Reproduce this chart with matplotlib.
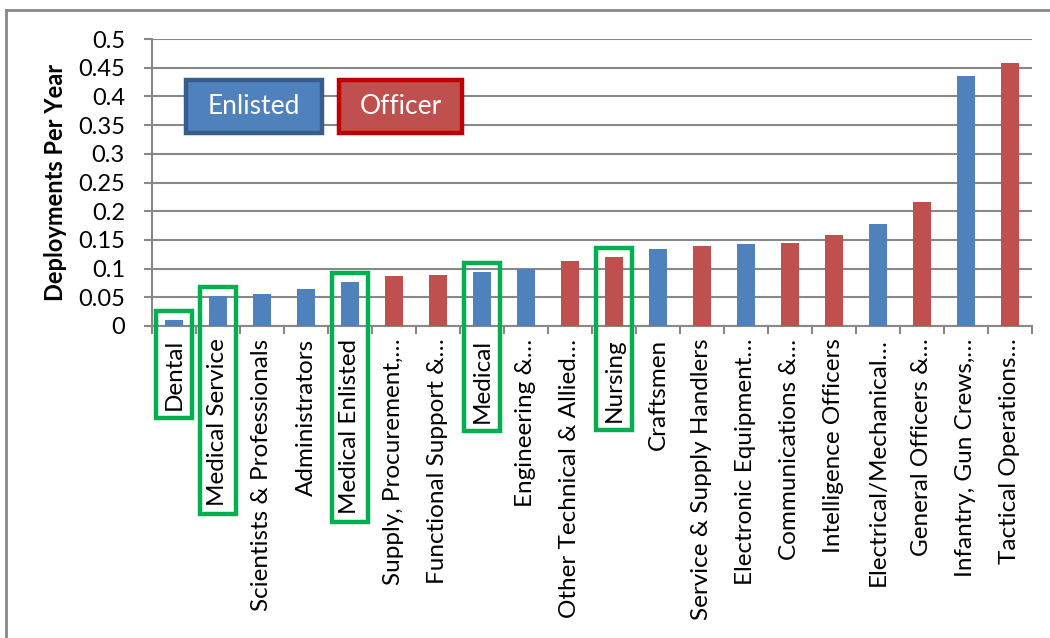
import matplotlib
matplotlib.use("Agg")
import matplotlib.pyplot as plt
from matplotlib.patches import Rectangle
from matplotlib.lines import Line2D
import numpy as np

plt.rcParams['font.family'] = ['Lato', 'DejaVu Sans']

# datos
categorias = ["Dental", "Medical Service", "Scientists & Professionals", "Administrators",
              "Medical Enlisted", "Supply, Procurement,…", "Functional Support &…", "Medical",
              "Engineering &…", "Other Technical & Allied…", "Nursing", "Craftsmen",
              "Service & Supply Handlers", "Electronic Equipment…", "Communications &…",
              "Intelligence Officers", "Electrical/Mechanical…", "General Officers &…",
              "Infantry, Gun Crews,…", "Tactical Operations…"]
valores = [0.010, 0.052, 0.056, 0.064, 0.077, 0.087, 0.088, 0.094, 0.100, 0.113,
           0.120, 0.135, 0.139, 0.142, 0.144, 0.158, 0.178, 0.216, 0.436, 0.458]
tipo = ["E", "E", "E", "E", "E", "O", "O", "E", "E", "O",
        "O", "E", "O", "E", "O", "O", "E", "O", "E", "O"]
resaltados = ["Dental", "Medical Service", "Medical Enlisted", "Medical", "Nursing"]
yticks = [0, 0.05, 0.1, 0.15, 0.2, 0.25, 0.3, 0.35, 0.4, 0.45, 0.5]
ytick_labels = ["0", "0.05", "0.1", "0.15", "0.2", "0.25", "0.3", "0.35", "0.4", "0.45", "0.5"]

azul = "#4F81BD"
rojo = "#C0504D"
gris = "#888888"
verde = "#00B050"

W, H = 1050, 638
fig = plt.figure(figsize=(W / 100, H / 100), dpi=100)
ax = fig.add_axes([152 / W, 1 - 326 / H, 880 / W, 287 / H])

x = np.arange(len(categorias))
colores = [azul if t == "E" else rojo for t in tipo]
ax.bar(x, valores, width=0.4, color=colores, zorder=3)

ax.set_xlim(-0.5, len(categorias) - 0.5)
ax.set_ylim(0, 0.5)
ax.set_yticks(yticks)
ax.set_yticklabels(ytick_labels, fontsize=17)
ax.set_xticks(x)
ax.set_xticklabels(categorias, rotation=90, fontsize=17.5, va='top', ha='center')
ax.set_xticks(np.arange(-0.5, len(categorias)), minor=True)
ax.tick_params(axis='x', which='major', length=0, pad=9)
ax.tick_params(axis='x', which='minor', length=6, width=1.5, color=gris)
ax.tick_params(axis='y', length=6, width=1.5, color=gris, pad=13.5)
ax.yaxis.grid(True, color=gris, linewidth=1.5, zorder=0)
ax.set_axisbelow(True)
for s in ['top', 'right']:
    ax.spines[s].set_visible(False)
for s in ['left', 'bottom']:
    ax.spines[s].set_color(gris)
    ax.spines[s].set_linewidth(1.5)
ax.set_ylabel("Deployments Per Year", fontsize=17, fontweight='bold', labelpad=8)

# leyenda hecha a mano
def caja(x0, x1, texto, relleno, borde):
    r = Rectangle((x0 / W, 1 - 133 / H), (x1 - x0) / W, 53 / H, transform=fig.transFigure,
                  facecolor=relleno, edgecolor=borde, linewidth=3.2, zorder=5)
    fig.add_artist(r)
    fig.text((x0 + x1) / 2 / W, 1 - 107 / H, texto, color='white', fontsize=19,
             ha='center', va='center', zorder=6)

caja(186, 322, "Enlisted", azul, "#385D8A")
caja(339, 462, "Officer", rojo, "#C00000")

# marco exterior
fig.add_artist(Line2D([6 / W, 6 / W], [0, 1 - 10 / H], transform=fig.transFigure, color=gris, lw=2))
fig.add_artist(Line2D([6 / W, 1], [1 - 10 / H, 1 - 10 / H], transform=fig.transFigure, color=gris, lw=2))

# cajas verdes
fig.canvas.draw()
rend = fig.canvas.get_renderer()
inv = fig.transFigure.inverted()
etiquetas = ax.get_xticklabels()
for i, nombre in enumerate(categorias):
    if nombre not in resaltados:
        continue
    bb = etiquetas[i].get_window_extent(rend)
    cx, ytop = ax.transData.transform((i, valores[i]))
    ytop = ytop + 9
    ybot = bb.y0 - 8
    ancho = 36
    p0 = inv.transform((cx - ancho / 2, ybot))
    p1 = inv.transform((cx + ancho / 2, ytop))
    r = Rectangle(p0, p1[0] - p0[0], p1[1] - p0[1], transform=fig.transFigure,
                  fill=False, edgecolor=verde, linewidth=3.2, zorder=10)
    fig.add_artist(r)

fig.savefig("out.png", dpi=100)
